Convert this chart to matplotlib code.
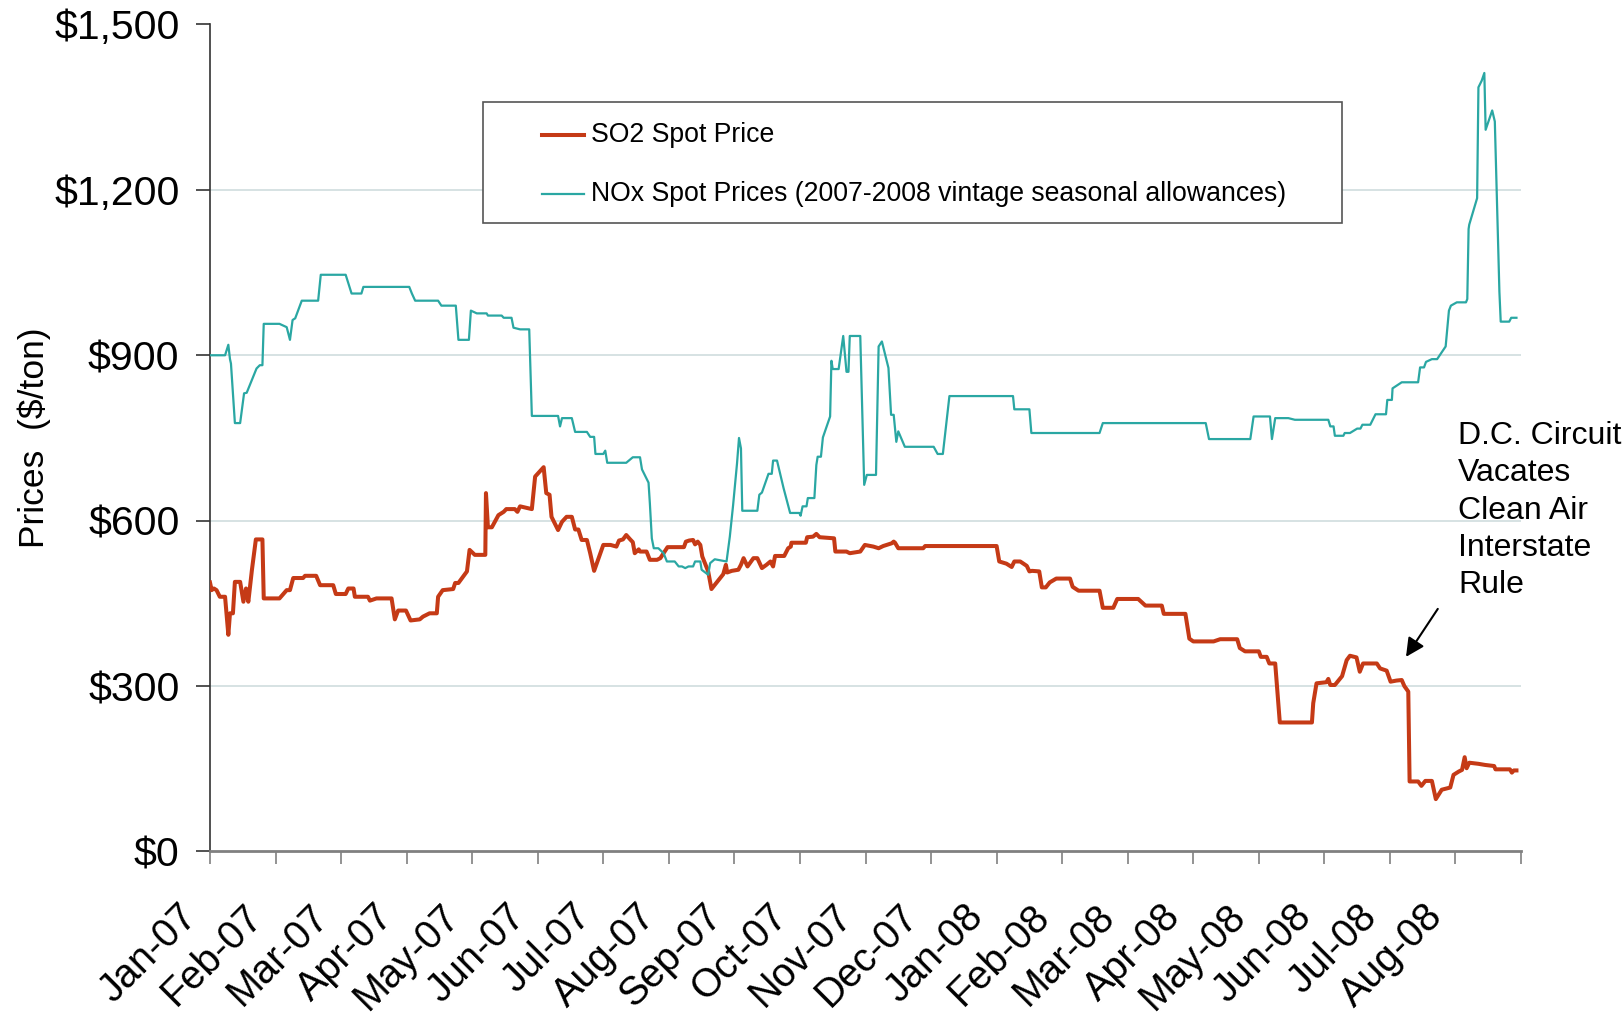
import matplotlib
matplotlib.use('Agg')
import matplotlib.pyplot as plt
from matplotlib.lines import Line2D
from matplotlib.patches import Rectangle
import matplotlib.transforms as mtransforms
from matplotlib.ticker import FuncFormatter

plt.rcParams['font.family'] = ['Liberation Sans', 'DejaVu Sans']

# ---------------- data (x = months since Jan-07) ----------------
month_labels = ['Jan-07', 'Feb-07', 'Mar-07', 'Apr-07', 'May-07', 'Jun-07', 'Jul-07',
                'Aug-07', 'Sep-07', 'Oct-07', 'Nov-07', 'Dec-07', 'Jan-08', 'Feb-08',
                'Mar-08', 'Apr-08', 'May-08', 'Jun-08', 'Jul-08', 'Aug-08']
y_ticks = [0, 300, 600, 900, 1200, 1500]

so2_x = [0.00, 0.025, 0.06, 0.10, 0.15, 0.23, 0.28, 0.305, 0.35, 0.38, 0.46, 0.51, 0.55, 0.585,
         0.64, 0.70, 0.80, 0.82, 1.06, 1.17, 1.22, 1.27, 1.42, 1.45, 1.62, 1.68, 1.88, 1.92,
         2.07, 2.11, 2.19, 2.21, 2.41, 2.44, 2.54, 2.77, 2.82, 2.87, 2.99, 3.06, 3.20, 3.25,
         3.35, 3.46, 3.48, 3.55, 3.71, 3.74, 3.79, 3.92, 3.96, 4.04, 4.20, 4.21, 4.24, 4.30,
         4.40, 4.48, 4.52, 4.65, 4.69, 4.73, 4.91, 4.96, 5.09, 5.13, 5.18, 5.21, 5.31, 5.37,
         5.44, 5.52, 5.57, 5.62, 5.67, 5.75, 5.80, 5.86, 6.00, 6.11, 6.20, 6.24, 6.30, 6.35,
         6.41, 6.45, 6.48, 6.54, 6.56, 6.66, 6.71, 6.82, 6.87, 6.98, 7.23, 7.26, 7.31, 7.37,
         7.40, 7.44, 7.48, 7.51, 7.60, 7.65, 7.83, 7.87, 7.89, 7.96, 8.06, 8.10, 8.14, 8.20,
         8.29, 8.35, 8.42, 8.49, 8.55, 8.59, 8.62, 8.76, 8.82, 8.86, 8.87, 9.09, 9.11, 9.20,
         9.25, 9.30, 9.52, 9.54, 9.71, 9.76, 9.92, 9.99, 10.12, 10.20, 10.27, 10.40, 10.43,
         10.45, 10.50, 10.88, 10.91, 12.00, 12.04, 12.15, 12.23, 12.27, 12.36, 12.46, 12.50,
         12.54, 12.65, 12.69, 12.75, 12.81, 12.91, 13.12, 13.16, 13.25, 13.57, 13.62, 13.78,
         13.84, 14.16, 14.27, 14.52, 14.55, 14.88, 14.94, 15.00, 15.31, 15.41, 15.67, 15.71,
         15.79, 16.00, 16.03, 16.12, 16.16, 16.25, 16.32, 16.81, 16.83, 16.88, 17.03, 17.06,
         17.09, 17.16, 17.27, 17.34, 17.39, 17.49, 17.54, 17.59, 17.80, 17.85, 17.95, 18.01,
         18.10, 18.18, 18.22, 18.28, 18.30, 18.43, 18.48, 18.54, 18.64, 18.70, 18.79, 18.92,
         18.97, 19.05, 19.10, 19.14, 19.17, 19.21, 19.35, 19.45, 19.59, 19.61, 19.83, 19.86,
         19.89, 19.93]
so2_y = [488, 474, 477, 474, 462, 462, 393, 432, 432, 489, 489, 453, 477, 453,
         511, 566, 566, 459, 459, 474, 474, 496, 496, 500, 500, 483, 483, 467,
         467, 477, 477, 462, 462, 455, 459, 459, 421, 437, 437, 419, 421, 426,
         432, 432, 462, 474, 476, 487, 487, 508, 547, 538, 538, 650, 588, 588,
         610, 616, 621, 621, 616, 626, 621, 680, 697, 650, 647, 607, 583, 598,
         607, 607, 584, 584, 565, 565, 541, 509, 556, 556, 553, 564, 566, 574,
         566, 561, 541, 548, 544, 544, 529, 529, 532, 552, 552, 562, 564, 565,
         557, 562, 556, 535, 508, 476, 503, 520, 506, 509, 511, 520, 532, 517,
         532, 532, 514, 520, 526, 517, 536, 536, 550, 553, 560, 560, 570, 571,
         576, 570, 568, 544, 544, 541, 544, 556, 553, 550, 554, 559, 562,
         560, 550, 550, 554, 554, 526, 522, 516, 526, 526, 518, 508,
         509, 508, 479, 479, 488, 495, 495, 480, 473, 473, 442, 442,
         458, 458, 446, 446, 431, 431, 386, 381, 381, 385, 385, 369,
         363, 363, 353, 353, 341, 341, 234, 234, 269, 305, 307, 313,
         302, 302, 318, 347, 355, 352, 326, 341, 341, 332, 328, 308,
         310, 311, 300, 290, 127, 127, 119, 128, 128, 95, 112, 116,
         139, 145, 148, 171, 151, 161, 159, 157, 155, 149, 149, 143,
         147, 147]

nox_x = [0.00, 0.23, 0.28, 0.305, 0.32, 0.38, 0.46, 0.52, 0.56, 0.71, 0.76, 0.80, 0.82, 1.06,
         1.17, 1.22, 1.26, 1.30, 1.40, 1.65, 1.69, 2.07, 2.16, 2.31, 2.34, 3.04, 3.08, 3.13,
         3.48, 3.53, 3.75, 3.79, 3.95, 3.98, 4.07, 4.22, 4.24, 4.45, 4.48, 4.60, 4.63, 4.73,
         4.87, 4.91, 5.31, 5.34, 5.37, 5.52, 5.57, 5.75, 5.80, 5.86, 5.88, 6.00, 6.03, 6.06,
         6.35, 6.45, 6.56, 6.59, 6.69, 6.71, 6.74, 6.77, 6.84, 6.92, 6.97, 7.09, 7.15, 7.20,
         7.25, 7.30, 7.37, 7.40, 7.48, 7.50, 7.60, 7.63, 7.70, 7.88, 7.93, 7.98, 8.04, 8.07,
         8.10, 8.12, 8.35, 8.38, 8.42, 8.52, 8.57, 8.59, 8.65, 8.75, 8.85, 8.99, 9.01, 9.04,
         9.10, 9.12, 9.22, 9.25, 9.27, 9.32, 9.35, 9.46, 9.48, 9.50, 9.59, 9.66, 9.71, 9.74,
         9.76, 9.92, 9.98, 10.02, 10.16, 10.20, 10.25, 10.35, 10.39, 10.43, 10.47, 10.50,
         10.60, 11.04, 11.10, 11.18, 11.28, 12.25, 12.27, 12.50, 12.53, 13.57, 13.62, 15.19,
         15.24, 15.87, 15.92, 16.17, 16.20, 16.25, 16.45, 16.55, 17.06, 17.09, 17.14, 17.16,
         17.29, 17.31, 17.39, 17.50, 17.55, 17.58, 17.70, 17.78, 17.94, 17.96, 18.03, 18.04,
         18.18, 18.43, 18.46, 18.52, 18.55, 18.64, 18.72, 18.85, 18.90, 18.93, 19.02, 19.16,
         19.18, 19.20, 19.21, 19.33, 19.35, 19.40, 19.44, 19.46, 19.56, 19.60, 19.67, 19.69,
         19.82, 19.85, 19.93]
nox_y = [900, 900, 919, 893, 885, 777, 777, 831, 832, 876, 882, 882, 957, 957,
         951, 928, 964, 967, 999, 999, 1046, 1046, 1012, 1012, 1024, 1024, 1012, 999,
         999, 990, 990, 928, 928, 981, 976, 976, 972, 972, 968, 968, 950, 947,
         947, 790, 790, 771, 786, 786, 761, 761, 752, 752, 721, 721, 727, 705,
         705, 715, 715, 693, 669, 632, 568, 550, 550, 541, 526, 526, 517, 517,
         514, 517, 517, 526, 526, 511, 502, 523, 530, 526, 571, 628, 704, 750,
         731, 618, 618, 647, 651, 685, 685, 709, 709, 659, 614, 614, 609, 626,
         626, 641, 641, 701, 716, 716, 751, 789, 890, 875, 875, 935, 870, 870,
         935, 935, 665, 683, 683, 916, 925, 877, 792, 792, 743, 762,
         734, 734, 721, 721, 826, 826, 802, 802, 759, 759, 777, 777,
         748, 748, 789, 789, 748, 786, 786, 783, 783, 771, 771, 754,
         754, 759, 759, 767, 767, 774, 774, 793, 793, 819, 819, 840,
         851, 851, 878, 878, 888, 893, 893, 916, 981, 990, 996, 996,
         1002, 1129, 1137, 1185, 1386, 1398, 1412, 1309, 1344, 1324, 1015, 961,
         961, 968, 968]

so2_label = 'SO2 Spot Price'
nox_label = 'NOx Spot Prices (2007-2008 vintage seasonal allowances)'
note_text = 'D.C. Circuit\nVacates\nClean Air\nInterstate\nRule'

# ---------------- figure ----------------
so2_color = '#C53A16'
nox_color = '#2AA7A3'

fig = plt.figure(figsize=(16.24, 10.15), dpi=100)
ax = fig.add_axes([0.1293, 0.1611, 0.8073, 0.8148])

ax.plot(so2_x, so2_y, color=so2_color, lw=2.9, solid_joinstyle='round', zorder=3)
ax.plot(nox_x, nox_y, color=nox_color, lw=1.6, zorder=4)

ax.set_xlim(0, 20)
ax.set_ylim(0, 1500)
ax.set_yticks(y_ticks)
ax.yaxis.set_major_formatter(FuncFormatter(lambda v, p: f'${v:,.0f}'))
ax.set_xticks(range(len(month_labels) + 1))
ax.set_xticklabels(month_labels + [''])

ax.set_axisbelow(True)
ax.yaxis.grid(True, color='#D3DFE1', lw=1.3)
ax.xaxis.grid(False)
for gl, t in zip(ax.get_ygridlines(), y_ticks):
    if t in (0, 1500):
        gl.set_visible(False)

for s in ('top', 'right'):
    ax.spines[s].set_visible(False)
ax.spines['left'].set_color('#333333')
ax.spines['left'].set_linewidth(1.2)
ax.spines['bottom'].set_color('#808080')
ax.spines['bottom'].set_linewidth(2.0)

ax.tick_params(axis='y', length=10, width=1.2, color='#333333', labelsize=29.5, pad=12)
ax.tick_params(axis='x', length=9.5, width=1.2, color='#808080', labelsize=28.5, pad=33)
offset = mtransforms.ScaledTranslation(-0.19, 0, fig.dpi_scale_trans)
for lbl in ax.get_xticklabels():
    lbl.set_rotation(45)
    lbl.set_ha('right')
    lbl.set_va('center')
    lbl.set_rotation_mode('anchor')
    lbl.set_transform(lbl.get_transform() + offset)

ax.set_ylabel('Prices  ($/ton)', fontsize=25.5)
ax.yaxis.set_label_coords(-0.121, 0.5)

# ---------------- legend box ----------------
fig.add_artist(Rectangle((0.2974, 0.7803), 0.5290, 0.1192, transform=fig.transFigure,
                         facecolor='white', edgecolor='#555555', lw=1.2, zorder=5))
fig.add_artist(Line2D([0.3337, 0.3596], [0.8670, 0.8670], transform=fig.transFigure,
                      color=so2_color, lw=2.9, zorder=6))
fig.add_artist(Line2D([0.3337, 0.3596], [0.8086, 0.8086], transform=fig.transFigure,
                      color=nox_color, lw=1.6, zorder=6))
fig.text(0.3639, 0.8670, so2_label, fontsize=19.2, va='center', ha='left', zorder=7)
fig.text(0.3639, 0.8086, nox_label, fontsize=19.2, va='center', ha='left', zorder=7)

# ---------------- annotation ----------------
ax.annotate('', xy=(18.245, 353), xytext=(18.73, 440),
            arrowprops=dict(arrowstyle='-|>', color='black', lw=1.5,
                            mutation_scale=28, shrinkA=0, shrinkB=0), zorder=6)
ax.text(19.04, 781, note_text, fontsize=23, ha='left', va='top', linespacing=1.32,
        clip_on=False)

fig.savefig('out.png', dpi=100)
